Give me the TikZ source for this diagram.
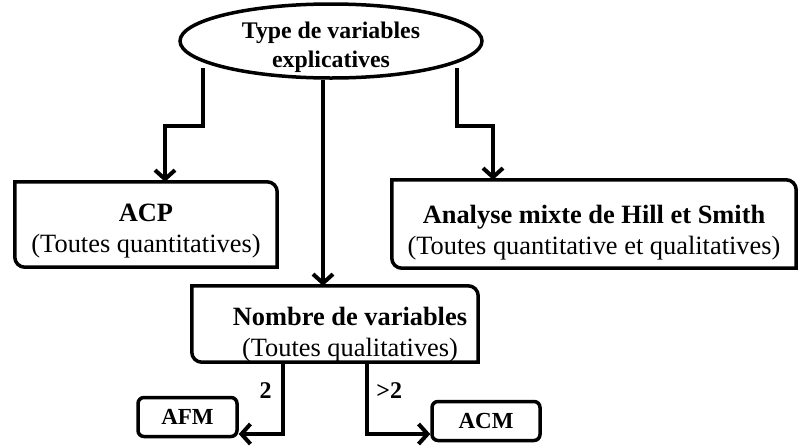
\documentclass[tikz,border=0pt]{standalone}
\usepackage{fontspec}
\setmainfont{Liberation Serif}
\usepackage{tikz}
\usetikzlibrary{shapes,arrows.meta,positioning}

\tikzset{
  frame/.style={line width=3.5pt, line join=miter},
  bigbox/.style={rectangle, inner sep=0pt, align=center, font=\fontsize{26.4}{31}\selectfont},
  smallbox/.style={draw, rectangle, rounded corners=6pt, line width=3.5pt, inner sep=0pt,
    minimum height=39pt, font=\fontsize{23}{26}\selectfont\bfseries},
  conn/.style={line width=4pt, -{Straight Barb[length=9pt, width=20pt]}},
  cond/.style={font=\fontsize{24}{26}\selectfont\bfseries}
}

% cadre a coins arrondis en diagonale
\newcommand{\diagframe}[1]{%
  \draw[frame] (#1.north west) -- ([xshift=-10pt]#1.north east)
    arc[start angle=90, end angle=0, radius=10pt] -- (#1.south east)
    -- ([xshift=10pt]#1.south west)
    arc[start angle=270, end angle=180, radius=10pt] -- cycle;}

\begin{document}
\begin{tikzpicture}[x=1pt, y=-1pt]
    \useasboundingbox (0,0) rectangle (798,445);

    \node[draw, ellipse, line width=3.5pt, minimum width=302pt, minimum height=74pt, inner sep=0pt] (root) at (331,41) {};
    \node[align=center, font=\fontsize{23.8}{29}\selectfont\bfseries] (roottext) at (331,47) {Type de variables\\explicatives};

    \node[bigbox, minimum width=262pt, minimum height=85pt] (acp) at (146,224.5) {};
    \node[bigbox] (acptext) at (146,231) {\textbf{ACP}\\(Toutes quantitatives)};
    \node[bigbox, minimum width=404pt, minimum height=88pt] (hill) at (594,224) {};
    \node[bigbox] (hilltext) at (594,233) {\textbf{Analyse mixte de Hill et Smith}\\(Toutes quantitative et qualitatives)};
    \node[bigbox, minimum width=286pt, minimum height=76pt] (nb) at (335,324) {};
    \node[bigbox] (nbtext) at (350,335) {\textbf{Nombre de variables}\\(Toutes qualitatives)};

    \diagframe{acp}
    \diagframe{hill}
    \diagframe{nb}

    \node[smallbox, minimum width=99pt] (afm) at (187.5,417) {AFM};
    \node[smallbox, minimum width=108pt] (acm) at (486,421) {ACM};

    \coordinate (lstart) at (203,68);
    \coordinate (rstart) at (457,68);

    \draw[conn] (lstart) -- (203,126) -| ([xshift=19pt]acp.north);
    \draw[conn] (rstart) -- (457,126) -| ([xshift=-101pt]hill.north);
    \draw[conn] ([xshift=-8pt]root.south) -- ([xshift=-8pt]root.south |- nb.north);
    \draw[conn] ([xshift=-52pt]nb.south) |- node[cond, pos=0.2, left=6pt] {2} ([yshift=-17pt]afm.east);
    \draw[conn] ([xshift=32pt]nb.south) |- node[cond, pos=0.2, right=4pt] {>2} ([yshift=-13pt]acm.west);
\end{tikzpicture}
\end{document}
